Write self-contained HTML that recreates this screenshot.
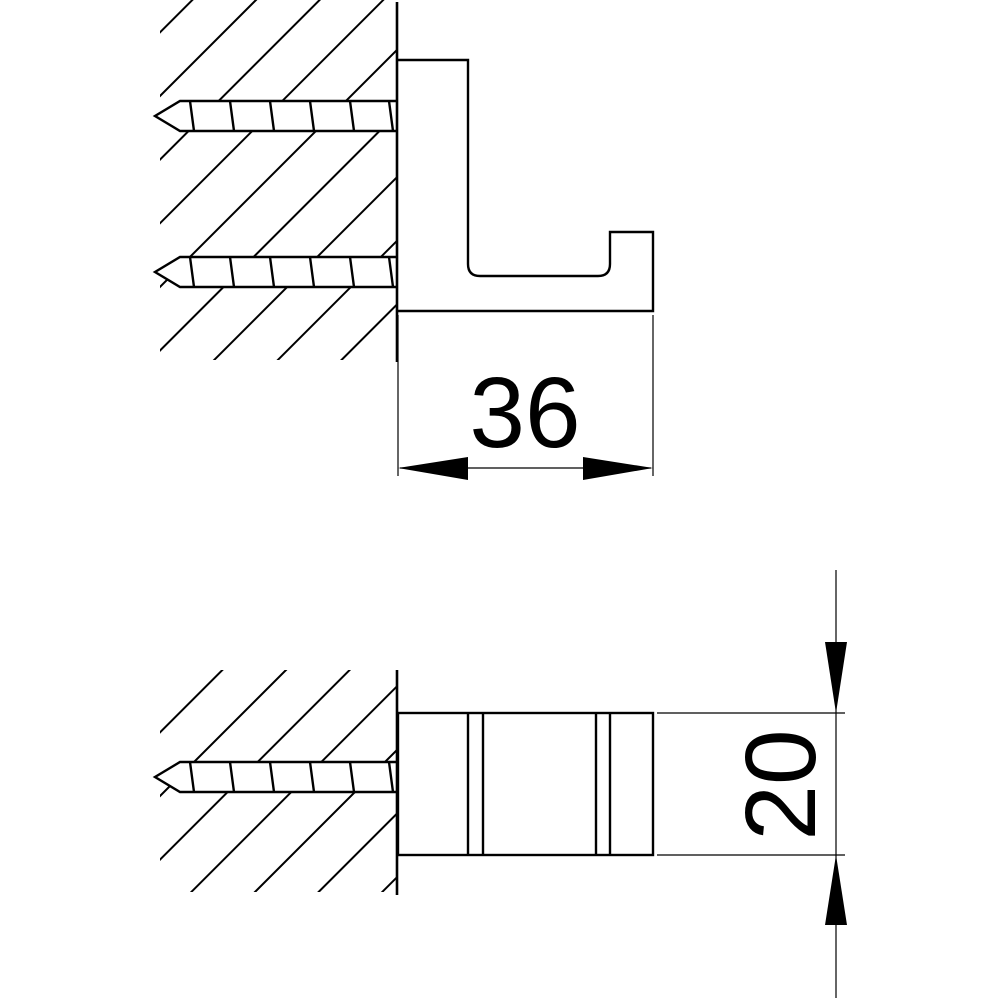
<!DOCTYPE html>
<html><head><style>html,body{margin:0;padding:0;background:#fff}svg{display:block}</style></head>
<body>
<svg width="1000" height="1000" viewBox="0 0 1000 1000" xmlns="http://www.w3.org/2000/svg">
<defs>
<clipPath id="c1"><rect x="160" y="0" width="237" height="360"/></clipPath>
<clipPath id="c2"><rect x="160" y="670" width="237" height="222"/></clipPath>
<pattern id="h" patternUnits="userSpaceOnUse" width="45" height="45" patternTransform="rotate(45)">
<line x1="1" y1="0" x2="1" y2="45" stroke="#000" stroke-width="2"/>
</pattern>
</defs>
<g clip-path="url(#c1)">
<rect x="150" y="0" width="260" height="370" fill="url(#h)" stroke="none"/>
</g>
<g clip-path="url(#c2)">
<rect x="150" y="660" width="260" height="240" fill="url(#h)" stroke="none"/>
</g>
<g stroke="#000" stroke-width="2.4" fill="#fff" stroke-linejoin="miter">
<path d="M398,101 L180,101 L155,116 L180,131 L398,131"/>
<path d="M398,257 L180,257 L155,272 L180,287 L398,287"/>
<path d="M398,762 L180,762 L155,777 L180,792 L398,792"/>
<g fill="none">
<path d="M190,101 L194,131 M230,101 L234,131 M270,101 L274,131 M310,101 L314,131 M350,101 L354,131 M389,101 L393,131"/>
<path d="M190,257 L194,287 M230,257 L234,287 M270,257 L274,287 M310,257 L314,287 M350,257 L354,287 M389,257 L393,287"/>
<path d="M190,762 L194,792 M230,762 L234,792 M270,762 L274,792 M310,762 L314,792 M350,762 L354,792 M389,762 L393,792"/>
<line x1="397" y1="2" x2="397" y2="362" stroke-width="2.6"/>
<line x1="397" y1="670" x2="397" y2="895" stroke-width="2.6"/>
<path d="M398,60 L468,60 L468,264 Q468,276 480,276 L598,276 Q610,276 610,264 L610,232 L653,232 L653,311 L398,311"/>
<rect x="398" y="713" width="255" height="142"/>
<path d="M468,713 V855 M483,713 V855 M596,713 V855 M610,713 V855"/>
</g>
</g>
<g stroke="#000" stroke-width="1.2" fill="none">
<line x1="398" y1="315" x2="398" y2="476"/>
<line x1="653" y1="315" x2="653" y2="476"/>
<line x1="400" y1="468" x2="651" y2="468"/>
<line x1="657" y1="713" x2="845" y2="713"/>
<line x1="657" y1="855" x2="845" y2="855"/>
<line x1="836" y1="570" x2="836" y2="998"/>
</g>
<g fill="#000">
<polygon points="398,468 468,457 468,480"/>
<polygon points="653,468 583,457 583,480"/>
<polygon points="836,713 825,642 847,642"/>
<polygon points="836,855 825,925 847,925"/>
</g>
<text x="525" y="447" text-anchor="middle" font-family="Liberation Sans, sans-serif" font-size="100">36</text>
<text transform="translate(815,785) rotate(-90)" text-anchor="middle" font-family="Liberation Sans, sans-serif" font-size="100">20</text>
</svg>
</body></html>
